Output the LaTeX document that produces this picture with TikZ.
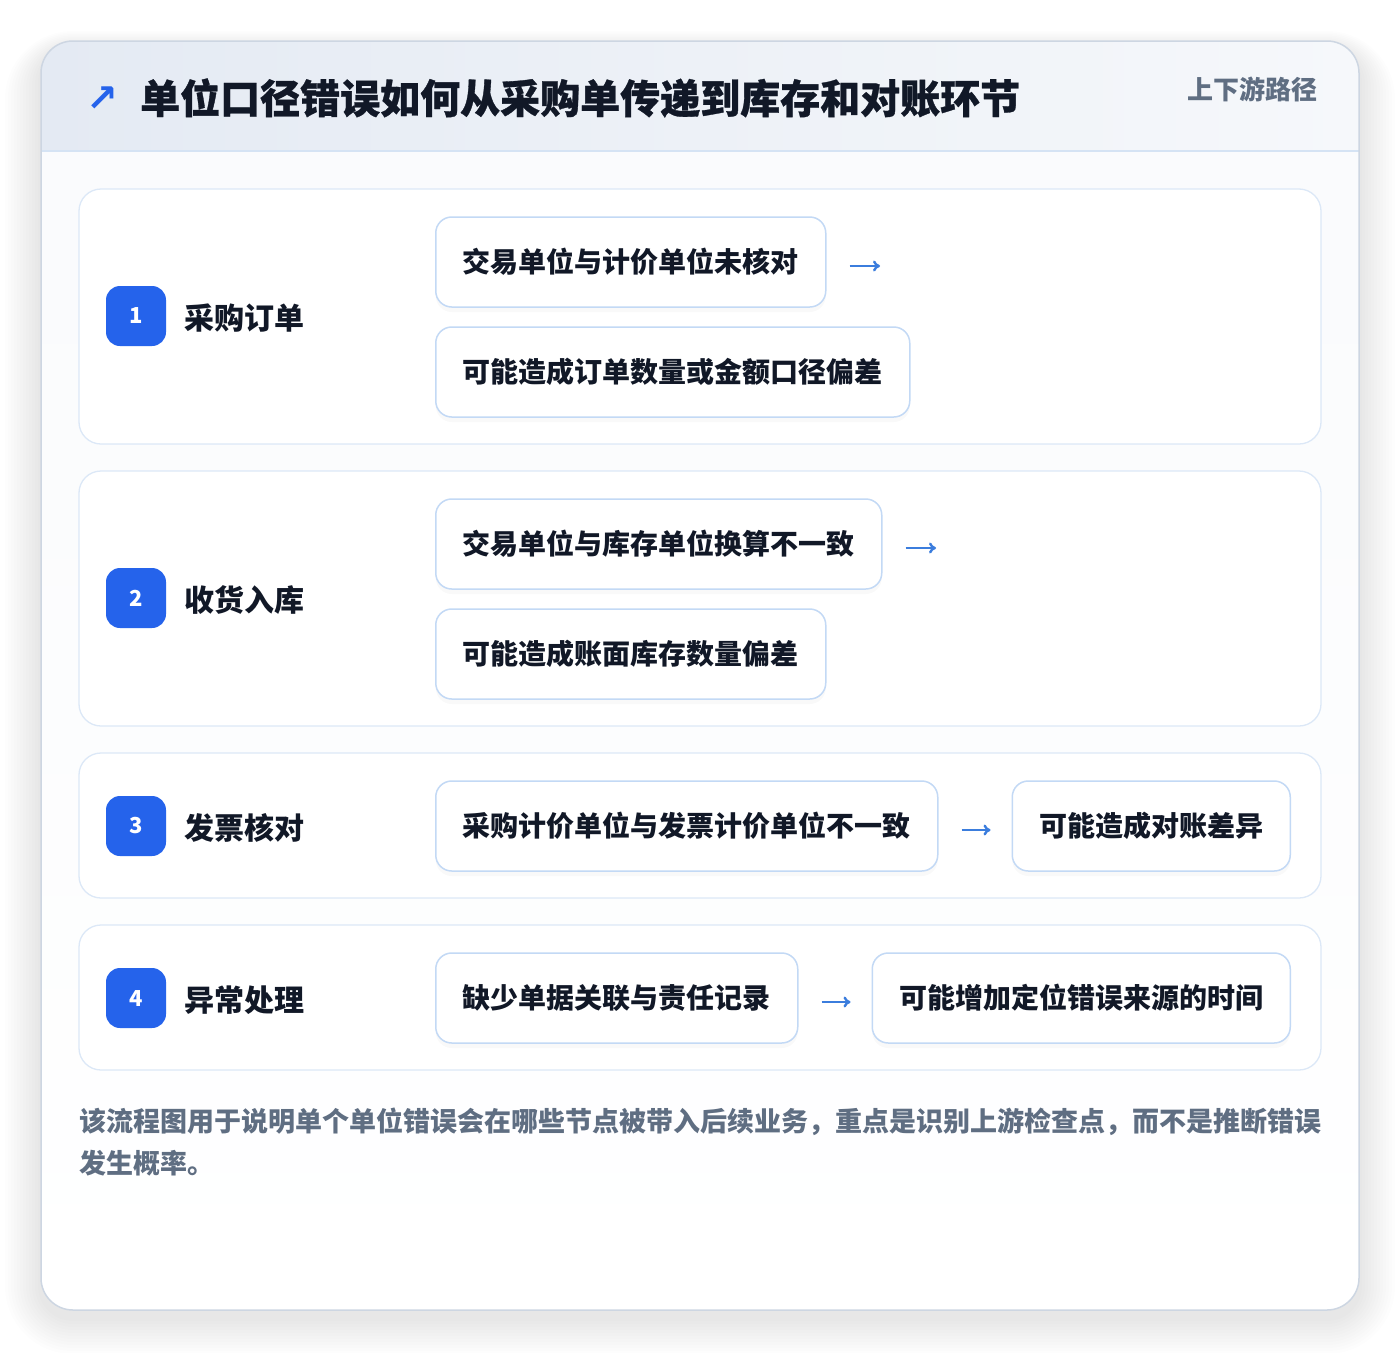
\documentclass[tikz,border=0pt]{standalone}
\usepackage{fontspec}
\setmainfont{Noto Sans CJK SC}
\newfontfamily\symfont{DejaVu Sans}
\newfontfamily\heavyfont{Noto Sans CJK SC}[BoldFeatures={FakeBold=0.8}]
\usetikzlibrary{shadows,arrows.meta}

\definecolor{inktitle}{HTML}{111827}
\definecolor{inkmuted}{HTML}{5F6E82}
\definecolor{badgeblue}{HTML}{2563EB}
\definecolor{arrowblue}{HTML}{3B7DDD}
\definecolor{boxline}{HTML}{C3D9F5}
\definecolor{panelline}{HTML}{DCE8F7}
\definecolor{cardline}{HTML}{CDD6E2}
\definecolor{headleft}{HTML}{E4EAF3}
\definecolor{headright}{HTML}{F6F8FB}
\definecolor{headline}{HTML}{D5E3F4}

\begin{document}
\begin{tikzpicture}[x=1pt,y=-1pt,
  panel/.style={draw=panelline,line width=1.3pt,fill=white,rounded corners=22pt},
  badge/.style={fill=badgeblue,rounded corners=14pt,minimum size=60pt,inner sep=0pt,
    text=white,font=\fontsize{22}{22}\selectfont\bfseries},
  steplabel/.style={anchor=west,inner sep=0pt,text=inktitle,font=\fontsize{30}{30}\selectfont\bfseries},
  causebox/.style={anchor=west,draw=boxline,line width=1.5pt,fill=white,rounded corners=16pt,
    minimum height=90pt,inner xsep=27pt,inner ysep=0pt,text=inktitle,
    font=\fontsize{28}{28}\selectfont\bfseries,
    drop shadow={shadow xshift=0pt,shadow yshift=-5pt,opacity=0.025,fill=black}},
  flowarrow/.style={-{To[length=7pt,width=11pt]},draw=arrowblue,line width=2.4pt}
]
  \useasboundingbox (0,0) rectangle (1400,1352);
  \fill[white] (0,0) rectangle (1400,1352);

  % soft shadow under the card
  \foreach \s in {3,6,...,36}
    \fill[black,opacity=0.008,rounded corners=32pt+\s pt]
      (41-\s,41-\s/2+8) rectangle (1359+\s,1310+\s+8);

  % card with header band
  \path[fill=white,rounded corners=32pt] (41,41) rectangle (1359,1310);
  \begin{scope}
    \clip[rounded corners=32pt] (41,41) rectangle (1359,1310);
    \shade[top color=headright!60,bottom color=white] (41,151) rectangle (1359,1310);
    \shade[left color=headleft,right color=headright] (41,41) rectangle (1359,151);
    \draw[headline,line width=1.5pt] (41,151) -- (1359,151);
  \end{scope}
  \draw[cardline,line width=1.5pt,rounded corners=32pt] (41,41) rectangle (1359,1310);

  \node[inner sep=0pt,text=badgeblue,font=\symfont\bfseries\fontsize{38}{38}\selectfont] (icon) at (102,99) {↗};
  \node[anchor=west,inner sep=0pt,text=inktitle,font=\heavyfont\fontsize{40}{40}\selectfont\bfseries]
    (title) at (140,98) {单位口径错误如何从采购单传递到库存和对账环节};
  \node[anchor=east,inner sep=0pt,text=inkmuted,font=\fontsize{26}{26}\selectfont\bfseries]
    (tag) at (1318,89) {上下游路径};

  % panels
  \draw[panel] (79,189) rectangle (1321,444);
  \draw[panel] (79,471) rectangle (1321,726);
  \draw[panel] (79,753) rectangle (1321,898);
  \draw[panel] (79,925) rectangle (1321,1070);

  % step 1
  \node[badge] (b1) at (136,316) {1};
  \node[steplabel] (s1) at (184,318) {采购订单};
  \node[causebox] (c1a) at (435,262) {交易单位与计价单位未核对};
  \node[causebox] (c1b) at (435,372) {可能造成订单数量或金额口径偏差};
  \coordinate (e1) at (880,266);
  \draw[flowarrow] (c1a.east |- e1) ++(23,0) -- (e1);

  % step 2
  \node[badge] (b2) at (136,598) {2};
  \node[steplabel] (s2) at (184,600) {收货入库};
  \node[causebox] (c2a) at (435,544) {交易单位与库存单位换算不一致};
  \node[causebox] (c2b) at (435,654) {可能造成账面库存数量偏差};
  \coordinate (e2) at (936,548);
  \draw[flowarrow] (c2a.east |- e2) ++(23,0) -- (e2);

  % step 3
  \node[badge] (b3) at (136,826) {3};
  \node[steplabel] (s3) at (184,828) {发票核对};
  \node[causebox] (c3a) at (435,826) {采购计价单位与发票计价单位不一致};
  \node[causebox,anchor=east] (c3b) at (1291,826) {可能造成对账差异};
  \draw[flowarrow] ([xshift=23pt,yshift=-4pt]c3a.east) -- ([xshift=-21pt,yshift=-4pt]c3b.west);

  % step 4
  \node[badge] (b4) at (136,998) {4};
  \node[steplabel] (s4) at (184,1000) {异常处理};
  \node[causebox] (c4a) at (435,998) {缺少单据关联与责任记录};
  \node[causebox,anchor=east] (c4b) at (1291,998) {可能增加定位错误来源的时间};
  \draw[flowarrow] ([xshift=23pt,yshift=-4pt]c4a.east) -- ([xshift=-21pt,yshift=-4pt]c4b.west);

  % note
  \node[anchor=north west,inner sep=0pt,text=inkmuted,align=left,
    font=\fontsize{27}{42}\selectfont\bfseries] (note) at (79,1108)
    {该流程图用于说明单个单位错误会在哪些节点被带入后续业务，重点是识别上游检查点，而不是推断错误\\发生概率。};
\end{tikzpicture}
\end{document}
